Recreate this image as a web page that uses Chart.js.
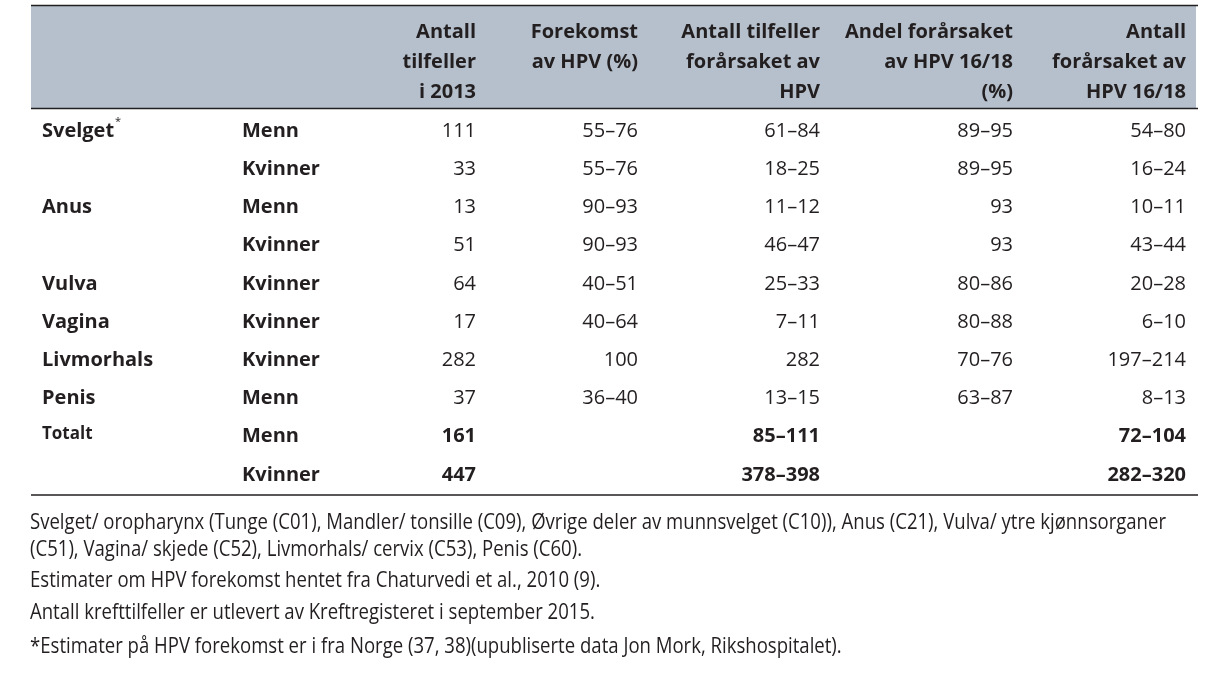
<!DOCTYPE html>
<html>
<head>
<meta charset="utf-8">
<script src="https://cdn.jsdelivr.net/npm/chart.js@4.4.1/dist/chart.umd.min.js"></script>
<style>
  body { margin: 0; background: #fff; }
</style>
</head>
<body>
<canvas id="tabell" width="1225" height="677"></canvas>
<script>
const headers = [
  ["Antall", "tilfeller", "i 2013"],
  ["Forekomst", "av HPV (%)"],
  ["Antall tilfeller", "forårsaket av", "HPV"],
  ["Andel forårsaket", "av HPV 16/18", "(%)"],
  ["Antall", "forårsaket av", "HPV 16/18"],
];
const sites = ["Svelget", "", "Anus", "", "Vulva", "Vagina", "Livmorhals", "Penis", "Totalt", ""];
const sexes = ["Menn", "Kvinner", "Menn", "Kvinner", "Kvinner", "Kvinner", "Kvinner", "Menn", "Menn", "Kvinner"];
const cases2013 = ["111", "33", "13", "51", "64", "17", "282", "37", "161", "447"];
const hpvShare = ["55–76", "55–76", "90–93", "90–93", "40–51", "40–64", "100", "36–40", "", ""];
const hpvCases = ["61–84", "18–25", "11–12", "46–47", "25–33", "7–11", "282", "13–15", "85–111", "378–398"];
const share1618 = ["89–95", "89–95", "93", "93", "80–86", "80–88", "70–76", "63–87", "", ""];
const cases1618 = ["54–80", "16–24", "10–11", "43–44", "20–28", "6–10", "197–214", "8–13", "72–104", "282–320"];
const footnotes = [
  "Svelget/ oropharynx (Tunge (C01), Mandler/ tonsille (C09), Øvrige deler av munnsvelget (C10)), Anus (C21), Vulva/ ytre kjønnsorganer",
  "(C51), Vagina/ skjede (C52), Livmorhals/ cervix (C53), Penis (C60).",
  "Estimater om HPV forekomst hentet fra Chaturvedi et al., 2010 (9).",
  "Antall krefttilfeller er utlevert av Kreftregisteret i september 2015.",
  "*Estimater på HPV forekomst er i fra Norge (37, 38)(upubliserte data Jon Mork, Rikshospitalet).",
];

const columns = [cases2013, hpvShare, hpvCases, share1618, cases1618];
const rowIds = sexes.map((_, i) => "r" + i);

const ink = "#231f20";
const face = "'Open Sans', sans-serif";
// right edges of the value columns, left edges of the two label columns (x scale units)
const colRight = [445, 607, 789, 982, 1155];
const siteX = 11;
const sexX = 211;

const tablePlugin = {
  id: "tabell",
  beforeDraw(chart) {
    const { ctx, chartArea: a } = chart;
    ctx.save();
    ctx.fillStyle = "#b5c0cc";
    ctx.fillRect(a.left, 6, a.right - a.left - 2, 102);
    ctx.strokeStyle = ink;
    ctx.lineWidth = 1.5;
    [5.5, 108.5, 495].forEach((y) => {
      ctx.beginPath();
      ctx.moveTo(a.left, y);
      ctx.lineTo(a.right, y);
      ctx.stroke();
    });
    ctx.restore();
  },
  afterDraw(chart) {
    const { ctx } = chart;
    const x = chart.scales.x;
    const y = chart.scales.y;
    ctx.save();
    ctx.fillStyle = ink;
    ctx.textBaseline = "middle";

    // header
    ctx.font = "bold 20px " + face;
    ctx.textAlign = "right";
    headers.forEach((lines, c) => {
      lines.forEach((txt, k) => {
        ctx.fillText(txt, x.getPixelForValue(colRight[c]), 32 + k * 30);
      });
    });

    // body
    rowIds.forEach((_, i) => {
      const py = y.getPixelForValue(i) + 2;
      const bold = i >= 8;
      ctx.textAlign = "left";
      if (sites[i]) {
        if (sites[i] === "Totalt") {
          ctx.font = "bold 17px " + face;
          ctx.fillText(sites[i], x.getPixelForValue(siteX), py - 3);
        } else {
          ctx.font = "bold 20px " + face;
          ctx.fillText(sites[i], x.getPixelForValue(siteX), py);
          if (i === 0) {
            const w = ctx.measureText(sites[i]).width;
            ctx.font = "11px " + face;
            ctx.fillText("*", x.getPixelForValue(siteX) + w + 1, py - 9);
          }
        }
      }
      ctx.font = "bold 20px " + face;
      ctx.fillText(sexes[i], x.getPixelForValue(sexX), py);
      ctx.textAlign = "right";
      ctx.font = (bold ? "bold " : "") + "20px " + face;
      columns.forEach((col, c) => {
        if (col[i]) ctx.fillText(col[i], x.getPixelForValue(colRight[c]), py);
      });
    });

    // footnotes, narrow face
    ctx.font = "22px " + face;
    ctx.textAlign = "left";
    const squeeze = 1136 / ctx.measureText(footnotes[0]).width;
    const noteY = [523, 550, 581, 613, 647];
    ctx.scale(squeeze, 1);
    footnotes.forEach((txt, k) => ctx.fillText(txt, 30 / squeeze, noteY[k]));
    ctx.restore();
  },
};

new Chart(document.getElementById("tabell"), {
  type: "scatter",
  data: {
    labels: rowIds,
    datasets: [],
  },
  options: {
    responsive: false,
    animation: false,
    layout: { padding: { left: 31, right: 27, top: 110, bottom: 185 } },
    plugins: { legend: { display: false }, tooltip: { enabled: false } },
    scales: {
      x: { type: "linear", min: 0, max: 1167, display: false },
      y: { type: "category", labels: rowIds, offset: true, display: false },
    },
  },
  plugins: [tablePlugin],
});
</script>
</body>
</html>
